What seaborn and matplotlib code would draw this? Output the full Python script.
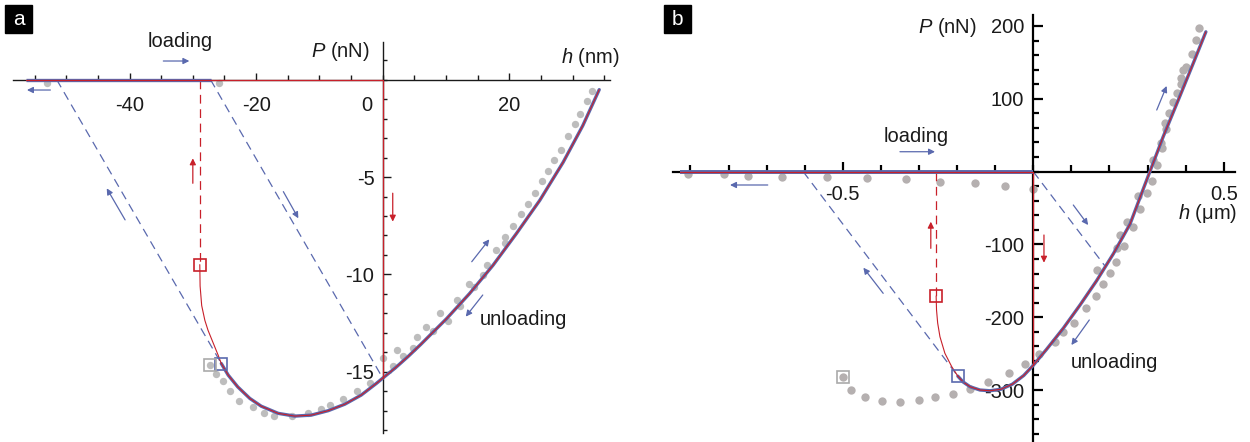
import matplotlib
matplotlib.use("Agg")
import matplotlib.pyplot as plt
import seaborn as sns
import pandas as pd
from matplotlib.patches import Rectangle
from matplotlib.transforms import ScaledTranslation

# ---------------- Panel a data (h in nm, P in nN) ----------------
a_dots_h = [-53.0, -25.9, -27.3, -26.4, -25.3, -24.2, -22.7, -20.5, -18.8, -17.1, -14.4,
            -11.8, -9.7, -8.3, -6.3, -4.0, -2.05, 0.0, 1.6, 2.2, 3.2, 4.8, 5.4, 6.9, 7.96,
            9.1, 10.3, 11.7, 12.2, 13.7, 14.4, 15.85, 16.5, 17.96, 19.3, 19.3, 20.6, 21.9,
            22.96, 24.1, 25.2, 26.1, 27.0, 28.1, 29.3, 30.3, 31.1, 32.2, 33.1]
a_dots_P = [-0.15, -0.15, -14.63, -15.1, -15.5, -16.0, -16.5, -16.8, -17.1, -17.25, -17.3,
            -17.1, -16.9, -16.7, -16.4, -16.0, -15.6, -14.3, -14.7, -13.9, -14.2, -13.8, -13.2,
            -12.7, -12.9, -12.0, -12.4, -11.3, -11.6, -10.5, -10.65, -10.05, -9.5, -8.77, -8.1,
            -8.4, -7.5, -6.9, -6.4, -5.8, -5.2, -4.7, -4.15, -3.6, -2.9, -2.3, -1.76, -1.1, -0.6]
a_curve_h = [-25.5, -24.4, -22.9, -21.0, -19.2, -16.5, -13.9, -11.3, -8.6, -6.0, -3.4, -1.0,
             0.0, 2.0, 4.0, 6.0, 8.0, 10.1, 13.7, 17.4, 21.1, 24.8, 28.5, 31.6, 34.2]
a_curve_P = [-14.58, -15.18, -15.78, -16.37, -16.77, -17.14, -17.28, -17.23, -17.0, -16.67,
             -16.2, -15.6, -15.33, -14.8, -14.22, -13.6, -12.95, -12.27, -10.99, -9.54, -7.91,
             -6.2, -4.24, -2.36, -0.51]
a_snap_h = [-28.9, -28.85, -28.6, -28.1, -27.6, -27.0, -26.5, -26.0, -25.5]
a_snap_P = [-9.5, -10.6, -11.6, -12.36, -12.87, -13.35, -13.75, -14.15, -14.58]
a_approach_h = [-56.4, -27.2]
a_approach_P = [0.0, 0.0]
a_red_h = [-56.4, 0.0, 0.0]
a_red_P = [0.0, 0.0, -15.33]
a_jump = (-28.9, -9.5)
a_contact = (-25.5, -14.58)
a_expt_sq = (-27.3, -14.63)
a_dash1_h = [-51.5, -25.5]
a_dash1_P = [0.0, -14.58]
a_dash2_h = [-27.2, 0.0]
a_dash2_P = [0.0, -15.33]

# ---------------- Panel b data (h in um, P in nN) ----------------
b_dots_h = [-0.907, -0.812, -0.75, -0.66, -0.541, -0.436, -0.335, -0.245, -0.152, -0.074, 0.0,
            -0.50, -0.479, -0.442, -0.398, -0.35, -0.299, -0.258, -0.21, -0.166, -0.118, -0.063,
            -0.022, 0.014, 0.057, 0.079, 0.108, 0.138, 0.165, 0.182, 0.166, 0.201, 0.217, 0.219,
            0.239, 0.228, 0.261, 0.247, 0.28, 0.276, 0.298, 0.311, 0.315, 0.324, 0.337, 0.334,
            0.346, 0.348, 0.357, 0.366, 0.376, 0.387, 0.389, 0.394, 0.402, 0.416, 0.426, 0.435]
b_dots_P = [-3.3, -3.3, -5.6, -7.0, -7.0, -8.8, -10.6, -13.9, -16.0, -19.8, -24.3,
            -282.6, -300, -310, -315, -317, -314, -309, -305.5, -298, -288.6, -277,
            -264, -251, -233.6, -220, -207.5, -187.8, -171, -154.8, -135, -139.7, -123.7, -105,
            -101.8, -87, -76.5, -68.7, -51.4, -33.5, -29.8, -12.9, 15.9, 9.1, 32, 38.9,
            67.2, 58, 80.9, 96, 107.5, 120.3, 128, 139.6, 144, 161, 180.8, 196.8]
b_curve_h = [-0.198, -0.184, -0.166, -0.14, -0.114, -0.085, -0.055, -0.025, 0.0, 0.035, 0.079,
             0.123, 0.166, 0.21, 0.254, 0.29, 0.306, 0.341, 0.385, 0.42, 0.453]
b_curve_P = [-281, -289, -295.5, -300, -301, -299, -292, -280, -266, -244, -215,
             -183, -150, -113, -72, -22, 0, 48, 104, 149, 192]
b_snap_h = [-0.255, -0.254, -0.251, -0.245, -0.232, -0.214, -0.198]
b_snap_P = [-170.9, -190, -208, -226.8, -249.6, -268, -281]
b_approach_h = [-0.927, 0.0]
b_approach_P = [0.0, 0.0]
b_red_h = [-0.927, 0.0, 0.0]
b_red_P = [0.0, 0.0, -266]
b_jump = (-0.255, -170.9)
b_contact = (-0.198, -281)
b_expt_sq = (-0.50, -282.6)
b_dash1_h = [-0.604, -0.198]
b_dash1_P = [0.0, -281]
b_dash2_h = [0.0, 0.19]
b_dash2_P = [0.0, -131]

# tick values / labels
a_xmajor = [-40, -20, 20]
a_xlabels = ["-40", "-20", "20"]
a_xminor = list(range(-55, 40, 5))
a_ymajor = [-15, -10, -5]
a_ylabels = ["-15", "-10", "-5"]
a_yminor = list(range(-18, 2))
b_xmajor = [-0.5, 0.5]
b_xlabels = ["-0.5", "0.5"]
b_xminor = [round(-0.9 + 0.1 * i, 1) for i in range(15)]
b_ymajor = [-300, -200, -100, 100, 200]
b_ylabels = ["-300", "-200", "-100", "100", "200"]
b_yminor = list(range(-360, 220, 20))

# ---------------- styling ----------------
sns.set_theme(style="white")
plt.rcParams['font.family'] = ['Liberation Sans', 'DejaVu Sans']
plt.rcParams['mathtext.fontset'] = 'custom'
plt.rcParams['mathtext.it'] = 'Liberation Sans:italic'
plt.rcParams['mathtext.rm'] = 'Liberation Sans'
plt.rcParams['axes.unicode_minus'] = False

BLUE = '#5a69ae'
RED = '#c8202a'
GRAY_A = '#bdbdbd'
GRAY_B = '#b5b0b0'
FS = 14.5
TXT = '#1a1a1a'

W, H = 1250, 442
fig = plt.figure(figsize=(12.5, 4.42), dpi=100)
fig.patch.set_facecolor('white')

axa = fig.add_axes([0, 0, 630 / W, 1])
axb = fig.add_axes([640 / W, 0, 610 / W, 1])
for ax in (axa, axb):
    ax.patch.set_visible(False)


def arrow(ax, tail, head, color):
    ax.annotate('', xy=head, xytext=tail,
                arrowprops=dict(arrowstyle='-|>', color=color, lw=0.9,
                                mutation_scale=9, shrinkA=0, shrinkB=0),
                zorder=6)


def draw_panel(ax, dots_h, dots_P, gray, dsize, curve_h, curve_P, snap_h, snap_P,
               appr_h, appr_P, red_h, red_P, jump, contact, expt_sq,
               d1h, d1P, d2h, d2P, blw):
    dash = (0, (7, 4.5))
    ax.plot(d1h, d1P, color=BLUE, lw=0.9, ls=dash, zorder=2.2)
    ax.plot(d2h, d2P, color=BLUE, lw=0.9, ls=dash, zorder=2.2)
    ax.plot([jump[0], jump[0]], [0, jump[1]], color=RED, lw=0.9, ls=dash, zorder=2.2)
    sns.scatterplot(x=dots_h, y=dots_P, ax=ax, color=gray, s=dsize, linewidth=0, zorder=2)
    ax.plot(appr_h, appr_P, color=BLUE, lw=blw, solid_capstyle='butt', zorder=3.6)
    sns.lineplot(x=curve_h, y=curve_P, ax=ax, sort=False, estimator=None,
                 color=BLUE, lw=2.4, zorder=3.6)
    sns.lineplot(x=curve_h, y=curve_P, ax=ax, sort=False, estimator=None,
                 color=RED, lw=0.8, zorder=4)
    sns.lineplot(x=snap_h, y=snap_P, ax=ax, sort=False, estimator=None,
                 color=RED, lw=0.8, zorder=4)
    ax.plot(red_h, red_P, color=RED, lw=0.9, zorder=4)
    ax.plot([jump[0]], [jump[1]], marker='s', ms=8.5, mfc='none', mec=RED, mew=1.2, zorder=5)
    ax.plot([contact[0]], [contact[1]], marker='s', ms=8.5, mfc='none', mec=BLUE, mew=1.2, zorder=5)
    ax.plot([expt_sq[0]], [expt_sq[1]], marker='s', ms=8.5, mfc='none', mec='#aaaaaa', mew=1.2, zorder=5)
    ax.set_xlabel('')
    ax.set_ylabel('')


def style_axes(ax, xlim, ylim, xb, yb, xmaj, xlab, xmin, ymaj, ylab, ymin,
               lw, col, xpad, ypad, xl, xm, yl, ym):
    ax.set_xlim(*xlim)
    ax.set_ylim(*ylim)
    for s in ['top', 'right']:
        ax.spines[s].set_visible(False)
    for s in ['left', 'bottom']:
        ax.spines[s].set_position(('data', 0))
        ax.spines[s].set_linewidth(lw)
        ax.spines[s].set_color(col)
        ax.spines[s].set_zorder(3.5)
    ax.spines['bottom'].set_bounds(*xb)
    ax.spines['left'].set_bounds(*yb)
    ax.set_xticks(xmaj, xlab)
    ax.set_xticks(xmin, minor=True)
    ax.set_yticks(ymaj, ylab)
    ax.set_yticks(ymin, minor=True)
    ax.tick_params(axis='x', which='both', bottom=True, top=False, direction='in',
                   width=lw, color=col)
    ax.tick_params(axis='y', which='both', left=True, right=False, direction='in',
                   width=lw, color=col)
    ax.tick_params(axis='x', which='major', length=xl, pad=xpad, labelsize=FS, labelcolor=TXT)
    ax.tick_params(axis='x', which='minor', length=xm)
    ax.tick_params(axis='y', which='major', length=yl, pad=ypad, labelsize=FS, labelcolor=TXT)
    ax.tick_params(axis='y', which='minor', length=ym)
    ax.grid(False)


# ---------------- panel a ----------------
draw_panel(axa, a_dots_h, a_dots_P, GRAY_A, 28, a_curve_h, a_curve_P, a_snap_h, a_snap_P,
           a_approach_h, a_approach_P, a_red_h, a_red_P, a_jump, a_contact, a_expt_sq,
           a_dash1_h, a_dash1_P, a_dash2_h, a_dash2_P, 2.4)
style_axes(axa, (-60.46, 39.06), (-18.61, 4.094), (-58.4, 35.9), (-18.15, 1.94),
           a_xmajor, a_xlabels, a_xminor, a_ymajor, a_ylabels, a_yminor,
           1.0, '#1a1a1a', 12, 6, 4.8, 3.6, 5.8, 2.9)
axa.text(-2.53, 0, '0', fontsize=FS, color=TXT, ha='center', va='top',
         transform=axa.transData + ScaledTranslation(0, -12 / 72, fig.dpi_scale_trans))

for tail, head in [((-52.5, -0.53), (-56.2, -0.53)), ((-34.66, 0.96), (-30.55, 0.96)),
                   ((-40.7, -7.2), (-43.6, -5.58)), ((-15.7, -5.75), (-13.33, -7.12)),
                   ((14.06, -9.35), (16.84, -8.2)), ((15.8, -11.06), (13.11, -12.17))]:
    arrow(axa, tail, head, BLUE)
for tail, head in [((-30.0, -5.32), (-30.0, -4.04)), ((1.58, -5.83), (1.58, -7.29))]:
    arrow(axa, tail, head, RED)

axa.text(-31.95, 1.69, 'loading', fontsize=FS, ha='center', va='baseline', color=TXT)
axa.text(22.3, -12.6, 'unloading', fontsize=FS, ha='center', va='baseline', color=TXT)
axa.text(-2.0, 1.18, r'$P$ (nN)', fontsize=FS, ha='right', va='baseline', color=TXT)
axa.text(37.5, 0.84, r'$h$ (nm)', fontsize=FS, ha='right', va='baseline', color=TXT)

# ---------------- panel b ----------------
draw_panel(axb, b_dots_h, b_dots_P, GRAY_B, 36, b_curve_h, b_curve_P, b_snap_h, b_snap_P,
           b_approach_h, b_approach_P, b_red_h, b_red_P, b_jump, b_contact, b_expt_sq,
           b_dash1_h, b_dash1_P, b_dash2_h, b_dash2_P, 2.8)
style_axes(axb, (-1.0323, 0.5688), (-371.4, 235.7), (-0.945, 0.529), (-371.4, 215),
           b_xmajor, b_xlabels, b_xminor, b_ymajor, b_ylabels, b_yminor,
           1.6, 'black', 9.5, 6.5, 7.2, 4.8, 7.2, 4.1)

for tail, head in [((-0.697, -18.4), (-0.796, -18.4)), ((-0.35, 27.3), (-0.258, 27.3)),
                   ((-0.394, -167.2), (-0.446, -132)), ((0.105, -45.9), (0.144, -73.4)),
                   ((0.324, 84.6), (0.35, 117.6)), ((0.147, -203.8), (0.1, -238.2))]:
    arrow(axb, tail, head, BLUE)
for tail, head in [((-0.269, -105.4), (-0.269, -68.8)), ((0.028, -87.1), (0.028, -125.1))]:
    arrow(axb, tail, head, RED)

axb.text(-0.308, 41, 'loading', fontsize=FS, ha='center', va='baseline', color=TXT)
axb.text(0.212, -270, 'unloading', fontsize=FS, ha='center', va='baseline', color=TXT)
axb.text(-0.148, 190, r'$P$ (nN)', fontsize=FS, ha='right', va='baseline', color=TXT)
axb.text(0.535, -65, r'$h$ (μm)', fontsize=FS, ha='right', va='baseline', color=TXT)

# ---------------- panel letters ----------------
for x0, letter in [(5, 'a'), (664, 'b')]:
    fig.add_artist(Rectangle((x0 / W, 1 - 33 / H), 27 / W, 28 / H,
                             transform=fig.transFigure, color='black', zorder=10))
    fig.text((x0 + 13.5) / W, 1 - 19.5 / H, letter, color='white', fontsize=15,
             ha='center', va='center', zorder=11)

fig.savefig('out.png', dpi=100, facecolor='white')
